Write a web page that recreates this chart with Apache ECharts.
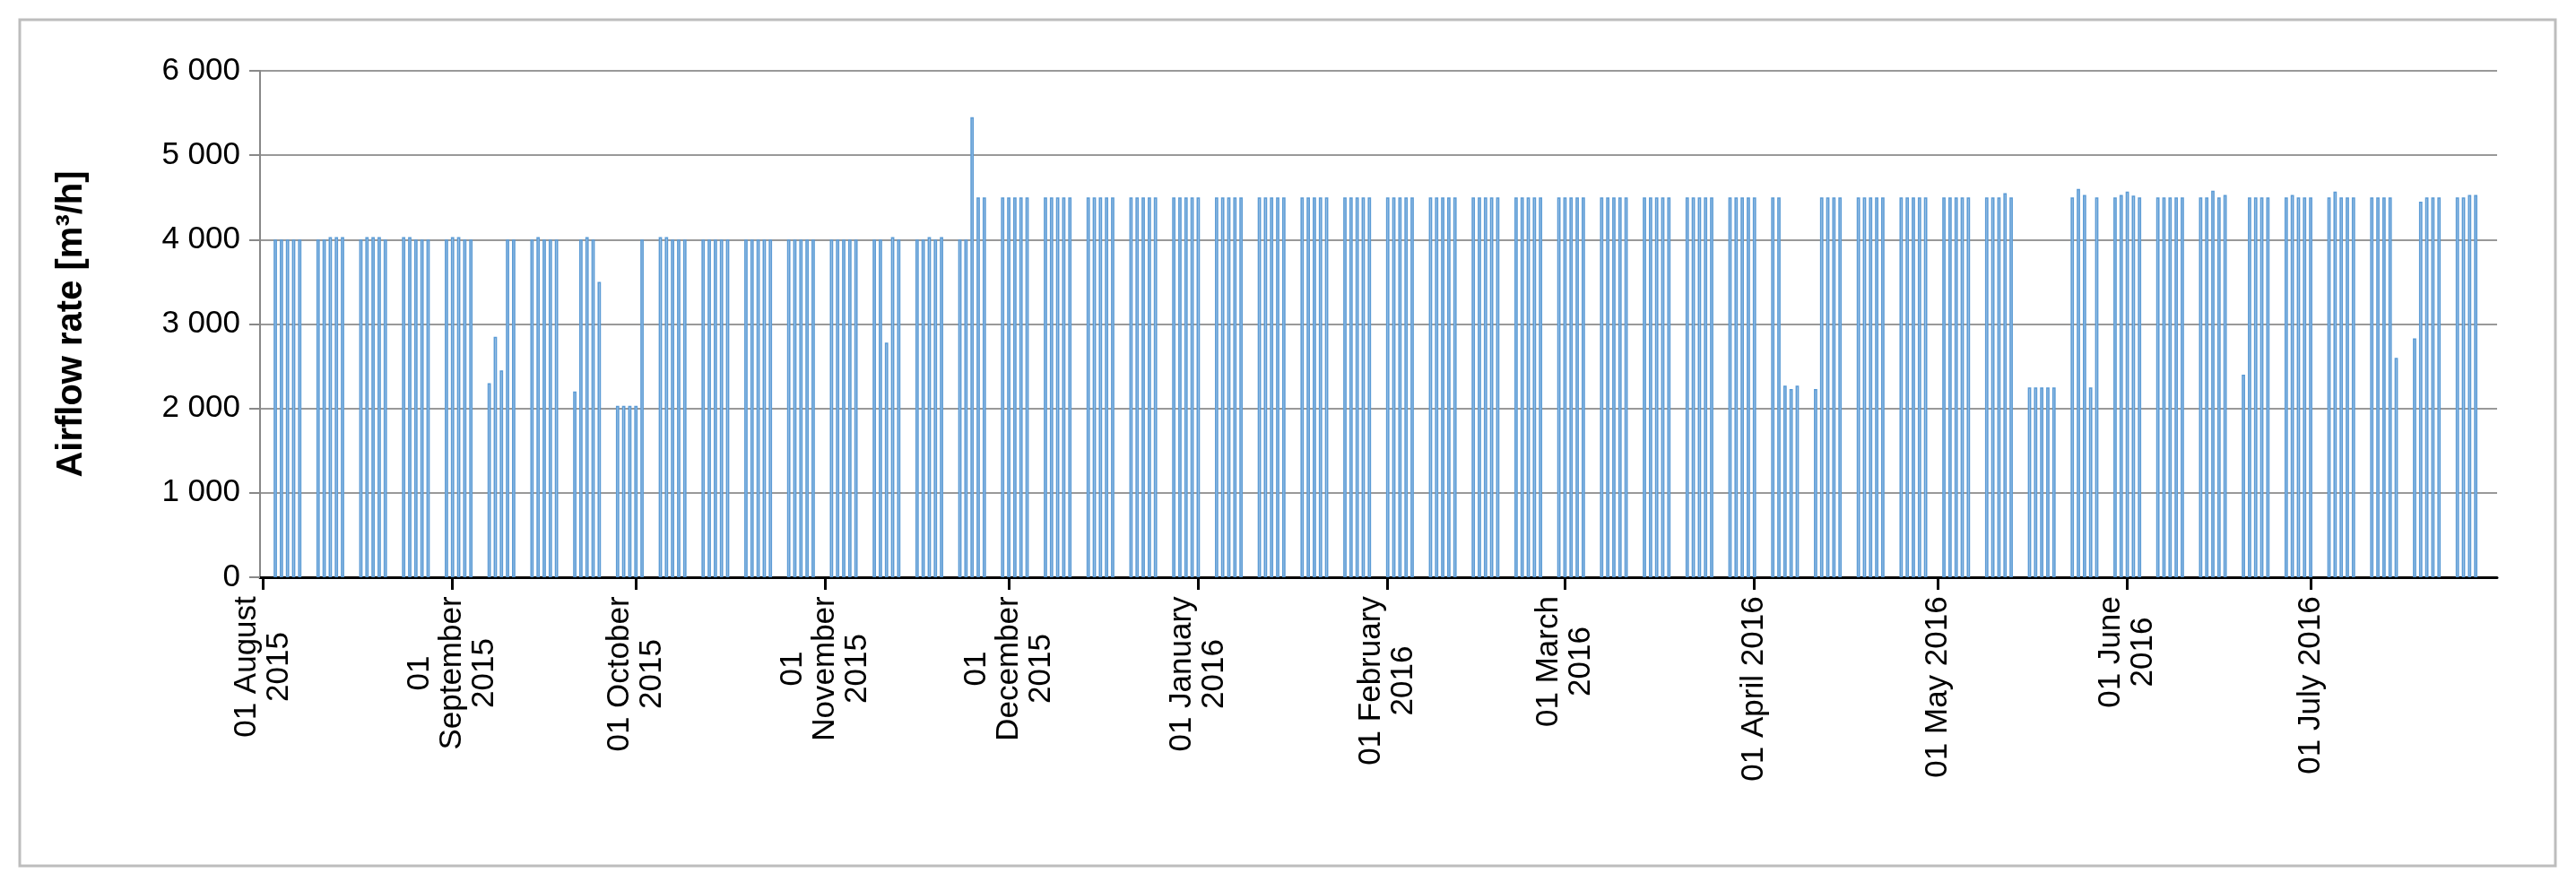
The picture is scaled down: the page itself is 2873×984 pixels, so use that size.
<!DOCTYPE html>
<html>
<head>
<meta charset="utf-8">
<script src="https://cdn.jsdelivr.net/npm/echarts@6/dist/echarts.min.js"></script>
<style>
html,body{margin:0;padding:0;background:#fff;}
#chart{width:2873px;height:984px;}
</style>
</head>
<body>
<div id="chart"></div>
<script>
// weekday airflow (Mon..Fri) per week, first week starts Monday 03 Aug 2015, weekends are off
var weekStart = '2015-08-03';
var weekdayFlow = [
	[4000,4000,4000,4000,4000],
	[4000,4000,4030,4030,4030],
	[4000,4030,4030,4030,4000],
	[4030,4030,4000,4000,4000],
	[4000,4030,4030,4000,4000],
	[2300,2850,2450,4000,4000],
	[4000,4030,4000,4000,4000],
	[2200,4000,4030,4000,3500],
	[2030,2030,2030,2030,4000],
	[4030,4030,4000,4000,4000],
	[4000,4000,4000,4000,4000],
	[4000,4000,4000,4000,4000],
	[4000,4000,4000,4000,4000],
	[4000,4000,4000,4000,4000],
	[4000,4000,2780,4030,4000],
	[4000,4000,4030,4000,4030],
	[4000,4000,5450,4500,4500],
	[4500,4500,4500,4500,4500],
	[4500,4500,4500,4500,4500],
	[4500,4500,4500,4500,4500],
	[4500,4500,4500,4500,4500],
	[4500,4500,4500,4500,4500],
	[4500,4500,4500,4500,4500],
	[4500,4500,4500,4500,4500],
	[4500,4500,4500,4500,4500],
	[4500,4500,4500,4500,4500],
	[4500,4500,4500,4500,4500],
	[4500,4500,4500,4500,4500],
	[4500,4500,4500,4500,4500],
	[4500,4500,4500,4500,4500],
	[4500,4500,4500,4500,4500],
	[4500,4500,4500,4500,4500],
	[4500,4500,4500,4500,4500],
	[4500,4500,4500,4500,4500],
	[4500,4500,4500,4500,4500],
	[4500,4500,2270,2230,2270],
	[2230,4500,4500,4500,4500],
	[4500,4500,4500,4500,4500],
	[4500,4500,4500,4500,4500],
	[4500,4500,4500,4500,4500],
	[4500,4500,4500,4550,4500],
	[2250,2250,2250,2250,2250],
	[4500,4600,4530,2250,4500],
	[4500,4530,4570,4520,4500],
	[4500,4500,4500,4500,4500],
	[4500,4500,4580,4500,4530],
	[2400,4500,4500,4500,4500],
	[4500,4530,4500,4500,4500],
	[4500,4570,4500,4500,4500],
	[4500,4500,4500,4500,2600],
	[2830,4450,4500,4500,4500],
	[4500,4500,4530,4530,0]
];
var firstDay = '2015-08-01';
var lastDay = '2016-07-31';
var monthLabels = {
	'2015-08-01':['01 August','2015'],
	'2015-09-01':['01','September','2015'],
	'2015-10-01':['01 October','2015'],
	'2015-11-01':['01','November','2015'],
	'2015-12-01':['01','December','2015'],
	'2016-01-01':['01 January','2016'],
	'2016-02-01':['01 February','2016'],
	'2016-03-01':['01 March','2016'],
	'2016-04-01':['01 April 2016'],
	'2016-05-01':['01 May 2016'],
	'2016-06-01':['01 June','2016'],
	'2016-07-01':['01 July 2016']
};

function p(s){ return s<10 ? '0'+s : ''+s; }
function key(d){ return d.getUTCFullYear()+'-'+p(d.getUTCMonth()+1)+'-'+p(d.getUTCDate()); }

var days=[], values=[];
var t0=Date.parse(weekStart+'T00:00:00Z');
for(var t=Date.parse(firstDay+'T00:00:00Z'); t<=Date.parse(lastDay+'T00:00:00Z'); t+=86400000){
	var d=new Date(t);
	days.push(key(d));
	var n=Math.round((t-t0)/86400000);
	var w=Math.floor(n/7), wd=n-w*7;
	if(n>=0 && wd<5 && w<weekdayFlow.length && weekdayFlow[w][wd]>0){
		values.push(weekdayFlow[w][wd]);
	}else{
		values.push('-');
	}
}

// label blocks: lines centred, block flush with axis
var fam='"Liberation Sans", Arial, sans-serif';
var ctx=document.createElement('canvas').getContext('2d');
ctx.font='35px '+fam;
var rich={}, richKey={}, idx=0;
for(var k in monthLabels){
	var wmax=0;
	monthLabels[k].forEach(function(s){ wmax=Math.max(wmax,ctx.measureText(s).width); });
	richKey[k]='l'+idx;
	rich['l'+idx]={width:Math.ceil(wmax)+2,align:'center',fontSize:35,lineHeight:36,
		fontFamily:fam,color:'#000'};
	idx++;
}

var chart=echarts.init(document.getElementById('chart'));
var option={
	animation:false,
	backgroundColor:'#fff',
	graphic:[{
		type:'rect',
		shape:{x:22,y:22,width:2828,height:944},
		style:{fill:'none',stroke:'#bdbdbd',lineWidth:3},
		silent:true,z:-1
	}],
	grid:{left:290,right:88,top:79,bottom:340},
	xAxis:{
		type:'category',
		data:days,
		boundaryGap:true,
		axisLine:{lineStyle:{color:'#000',width:3}},
		axisTick:{
			show:true,
			alignWithLabel:true,
			length:14,
			lineStyle:{color:'#000',width:3},
			interval:function(i,v){ return !!monthLabels[v]; }
		},
		axisLabel:{
			interval:function(i,v){ return !!monthLabels[v]; },
			rotate:90,
			margin:20,
			formatter:function(v){
				var kk=richKey[v];
				return monthLabels[v].map(function(s){ return '{'+kk+'|'+s+'}'; }).join('\n');
			},
			rich:rich
		},
		splitLine:{show:false}
	},
	yAxis:{
		type:'value',
		min:0,
		max:6000,
		interval:1000,
		name:'Airflow rate [m³/h]',
		nameLocation:'middle',
		nameGap:190,
		nameTextStyle:{fontSize:40,fontWeight:'bold',color:'#000',fontFamily:fam},
		axisLine:{show:true,lineStyle:{color:'#888',width:2}},
		axisTick:{show:true,length:12,lineStyle:{color:'#888',width:2}},
		axisLabel:{
			fontSize:35,
			color:'#000',
			margin:22,
			fontFamily:fam,
			formatter:function(v){ return v>=1000 ? Math.floor(v/1000)+' '+(''+v).slice(-3) : ''+v; }
		},
		splitLine:{lineStyle:{color:'#999',width:2}}
	},
	series:[{
		type:'bar',
		data:values,
		barWidth:'55%',
		itemStyle:{color:'#a9c9e8',borderColor:'#5b9bd5',borderWidth:1.5}
	}]
};
chart.setOption(option);
</script>
</body>
</html>
